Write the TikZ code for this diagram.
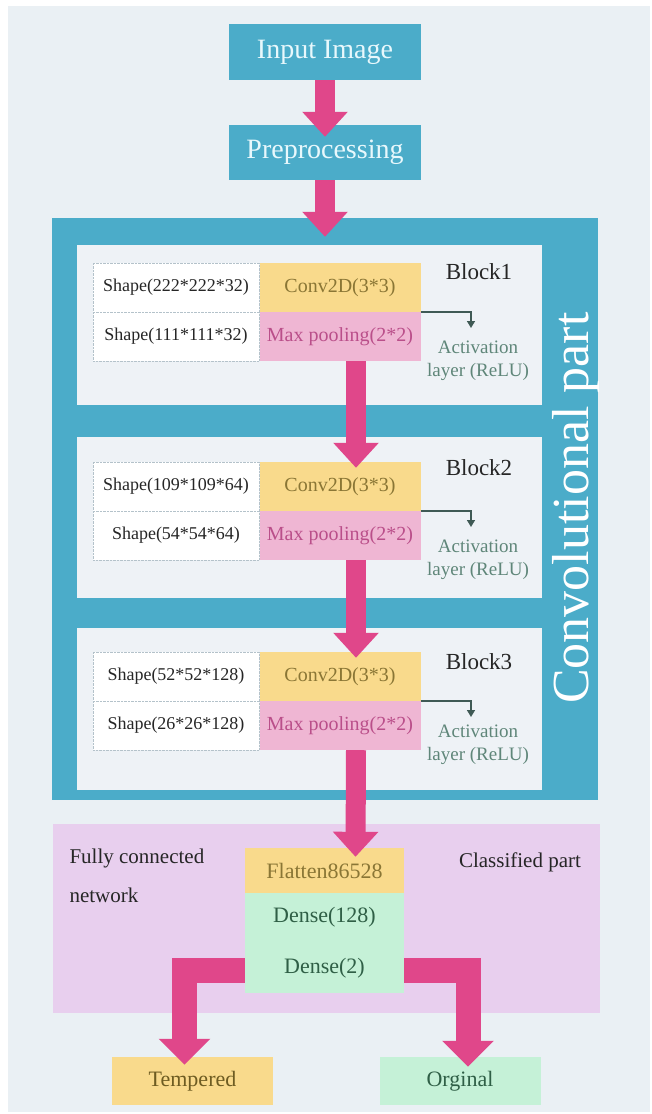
\documentclass[tikz,border=0pt]{standalone}
\usepackage{fontspec}
\setmainfont{Liberation Serif}
\usetikzlibrary{arrows.meta}

\definecolor{bgcol}{HTML}{EAF0F4}
\definecolor{convblue}{HTML}{4BACC9}
\definecolor{blockcol}{HTML}{EEF2F6}
\definecolor{arrowpink}{HTML}{E0478A}
\definecolor{convyellow}{HTML}{F9DA8C}
\definecolor{poolpink}{HTML}{EFB6D3}
\definecolor{densegreen}{HTML}{C5F1D7}
\definecolor{fcpurple}{HTML}{E8CFEE}
\definecolor{convtext}{HTML}{8A7635}
\definecolor{temptext}{HTML}{6E5C22}
\definecolor{pooltext}{HTML}{BA4F8A}
\definecolor{acttext}{HTML}{5F8679}
\definecolor{densetext}{HTML}{2F5F46}
\definecolor{boxtext}{HTML}{E8F8FC}
\definecolor{actline}{HTML}{3F5A55}
\definecolor{dotgray}{HTML}{B4C2CA}

\begin{document}
\begin{tikzpicture}[x=1pt,y=-1pt,
	box/.style={fill=convblue,text=boxtext,minimum width=192pt,minimum height=56pt,inner sep=0pt,font=\fontsize{28}{32}\selectfont},
	blockbg/.style={fill=blockcol,minimum width=465pt,inner sep=0pt},
	shapecell/.style={fill=white,draw=dotgray,densely dotted,minimum width=166pt,minimum height=49pt,inner sep=0pt,text=black!85,font=\fontsize{18}{21}\selectfont},
	convcell/.style={fill=convyellow,text=convtext,minimum width=161pt,minimum height=49pt,inner sep=0pt,font=\fontsize{20}{24}\selectfont},
	poolcell/.style={convcell,fill=poolpink,text=pooltext},
	blocklabel/.style={text=black!85,font=\fontsize{23}{27}\selectfont},
	actlabel/.style={align=center,text=acttext,font=\fontsize{19}{23}\selectfont},
	actarrow/.style={draw=actline,line width=1.5pt,-{Triangle[width=8pt,length=7pt]}},
	fat/.style={draw=arrowpink,line width=20pt,-{Triangle[width=44pt,length=25pt]}},
	fatbend/.style={draw=arrowpink,line width=25pt,line join=miter,-{Triangle[width=50pt,length=26pt]}},
	outbox/.style={minimum width=161pt,minimum height=48pt,inner sep=0pt,font=\fontsize{22}{26}\selectfont}]
	\useasboundingbox (0,0) rectangle (652,1114);
	\fill[bgcol] (8,6) rectangle (650,1112);

	\node[box] (inp) at (325,52) {Input Image};
	\node[box,minimum height=55pt] (pre) at (325,152.5) {Preprocessing};

	\node[fill=convblue,minimum width=546pt,minimum height=582pt,inner sep=0pt] (conv) at (325,509) {};
	\node[blockbg,minimum height=160pt] (blk1) at (309.5,325) {};
	\node[blockbg,minimum height=161pt] (blk2) at (309.5,517.5) {};
	\node[blockbg,minimum height=162pt] (blk3) at (309.5,709) {};
	\node[rotate=90,text=white,font=\fontsize{52}{58}\selectfont] (convlbl) at (576,508) {Convolutional part};

	\node[shapecell] (s1a) at (176,287.5) {Shape(222*222*32)};
	\node[shapecell] (s1b) at (176,336.5) {Shape(111*111*32)};
	\node[convcell] (c1) at (340,287.5) {Conv2D(3*3)};
	\node[poolcell] (p1) at (340,336.5) {Max pooling(2*2)};
	\node[blocklabel] (b1) at (479,272) {Block1};
	\node[actlabel] (a1) at (478,361) {Activation\\layer (ReLU)};
	\coordinate (r1) at (471,328);

	\node[shapecell] (s2a) at (176,486.5) {Shape(109*109*64)};
	\node[shapecell] (s2b) at (176,535.5) {Shape(54*54*64)};
	\node[convcell] (c2) at (340,486.5) {Conv2D(3*3)};
	\node[poolcell] (p2) at (340,535.5) {Max pooling(2*2)};
	\node[blocklabel] (b2) at (479,468) {Block2};
	\node[actlabel] (a2) at (478,560) {Activation\\layer (ReLU)};
	\coordinate (r2) at (471,527);

	\node[shapecell] (s3a) at (176,676.5) {Shape(52*52*128)};
	\node[shapecell] (s3b) at (176,725.5) {Shape(26*26*128)};
	\node[convcell] (c3) at (340,676.5) {Conv2D(3*3)};
	\node[poolcell] (p3) at (340,725.5) {Max pooling(2*2)};
	\node[blocklabel] (b3) at (479,662) {Block3};
	\node[actlabel] (a3) at (478,745) {Activation\\layer (ReLU)};
	\coordinate (r3) at (471,717);

	\node[fill=fcpurple,minimum width=547pt,minimum height=189pt,inner sep=0pt] (cls) at (326.5,918.5) {};
	\node[convcell,minimum width=159pt,minimum height=45pt,font=\fontsize{22}{26}\selectfont] (flat) at (324.5,870.5) {Flatten86528};
	\node[fill=densegreen,text=densetext,minimum width=159pt,minimum height=100pt,inner sep=0pt,align=center,font=\fontsize{22}{26}\selectfont] (dense) at (324.5,943) {Dense(128)\\[25pt]Dense(2)};
	\node[anchor=west,align=left,text=black!85,font=\fontsize{21}{25}\selectfont] (fcn) at (66,876) {Fully connected\\[14pt]network};
	\node[text=black!85,font=\fontsize{21}{25}\selectfont] (clsl) at (520,862) {Classified part};

	\node[outbox,fill=convyellow,text=temptext] (temp) at (192.5,1081) {Tempered};
	\node[outbox,fill=densegreen,text=densetext] (orig) at (460,1081) {Orginal};

	\draw[fat] (inp.south) -- ([yshift=-12pt]pre.north);
	\draw[fat] (pre.south) -- ([yshift=-19pt]conv.north);
	\draw[fat] ([xshift=16pt]p1.south) -- ([xshift=16pt,yshift=-6pt]c2.north);
	\draw[fat] ([xshift=16pt]p2.south) -- ([xshift=16pt,yshift=-6pt]c3.north);
	\draw[fat] ([xshift=16pt]p3.south) -- ([xshift=31pt,yshift=-9pt]flat.north);

	\draw[actarrow] (c1.south east) -| (r1);
	\draw[actarrow] (c2.south east) -| (r2);
	\draw[actarrow] (c3.south east) -| (r3);

	\draw[fatbend] ([yshift=-27pt]dense.west) -| ([xshift=-8pt,yshift=-8pt]temp.north);
	\draw[fatbend] ([yshift=-27pt]dense.east) -| ([xshift=8pt,yshift=-10pt]orig.north);
\end{tikzpicture}
\end{document}
